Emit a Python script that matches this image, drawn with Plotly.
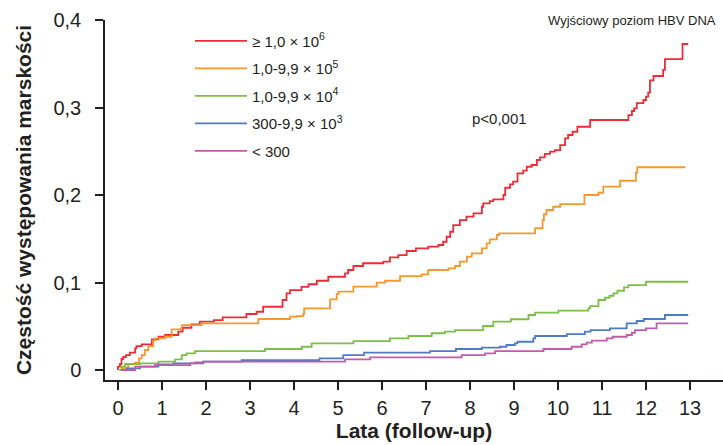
import plotly.graph_objects as go

# Data (years, cumulative incidence)
red_t = [0.0, 0.0, 0.045, 0.08, 0.12, 0.18, 0.27, 0.39, 0.42, 0.54, 0.77, 0.92, 1.07, 1.37, 1.47, 1.67, 1.86, 2.18, 2.38, 2.92, 3.15, 3.30, 3.74, 3.83, 3.91, 4.17, 4.33, 4.52, 4.78, 5.16, 5.23, 5.35, 5.57, 6.03, 6.18, 6.37, 6.56, 6.77, 7.05, 7.28, 7.39, 7.47, 7.55, 7.62, 7.77, 7.92, 8.08, 8.27, 8.30, 8.45, 8.53, 8.76, 8.80, 8.91, 8.98, 9.08, 9.21, 9.29, 9.40, 9.52, 9.59, 9.70, 9.82, 9.93, 10.05, 10.16, 10.23, 10.33, 10.44, 10.73, 11.60, 11.68, 11.73, 11.79, 11.94, 12.00, 12.05, 12.09, 12.17, 12.39, 12.43, 12.83, 12.96]
red_v = [0.0, 0.0038, 0.0069, 0.0126, 0.0149, 0.017, 0.0198, 0.0248, 0.0274, 0.0294, 0.0351, 0.038, 0.040, 0.0438, 0.0483, 0.0522, 0.0552, 0.0571, 0.0602, 0.064, 0.0666, 0.0723, 0.080, 0.0877, 0.0914, 0.095, 0.098, 0.102, 0.1066, 0.1105, 0.1143, 0.1189, 0.122, 0.1238, 0.1288, 0.1314, 0.136, 0.139, 0.141, 0.1429, 0.1466, 0.1523, 0.158, 0.1657, 0.1714, 0.1752, 0.179, 0.1866, 0.1905, 0.1931, 0.195, 0.200, 0.2083, 0.2122, 0.2152, 0.2248, 0.2278, 0.2323, 0.2343, 0.240, 0.243, 0.2469, 0.2495, 0.2514, 0.2571, 0.2648, 0.2686, 0.2723, 0.278, 0.2857, 0.2914, 0.296, 0.299, 0.305, 0.3086, 0.3124, 0.317, 0.331, 0.336, 0.343, 0.3554, 0.3726, 0.3726]

orange_t = [0.05, 0.12, 0.23, 0.39, 0.48, 0.54, 0.61, 0.69, 0.80, 0.84, 1.07, 1.22, 1.43, 1.45, 1.90, 3.19, 3.91, 4.06, 4.21, 4.23, 4.82, 4.97, 5.01, 5.35, 5.88, 6.07, 6.41, 6.90, 7.05, 7.51, 7.66, 7.77, 7.93, 8.04, 8.27, 8.38, 8.45, 8.61, 8.66, 9.48, 9.65, 9.68, 9.74, 9.89, 10.05, 10.60, 10.92, 11.03, 11.41, 11.77, 11.80, 12.89]
orange_v = [0.0, 0.002, 0.0069, 0.0083, 0.0134, 0.0171, 0.0229, 0.0274, 0.0335, 0.0362, 0.038, 0.0465, 0.0477, 0.0514, 0.0533, 0.0583, 0.061, 0.0617, 0.064, 0.0705, 0.0808, 0.0869, 0.0895, 0.0952, 0.0998, 0.102, 0.1074, 0.1094, 0.1143, 0.1162, 0.1189, 0.1238, 0.1295, 0.1334, 0.1391, 0.1448, 0.1494, 0.1543, 0.1562, 0.162, 0.1714, 0.178, 0.1829, 0.1866, 0.1897, 0.200, 0.2026, 0.2095, 0.2163, 0.2255, 0.2317, 0.2317]

green_t = [0.03, 0.08, 0.16, 0.50, 0.92, 1.30, 1.45, 1.56, 1.75, 3.34, 4.18, 4.40, 5.35, 6.18, 6.60, 7.13, 7.43, 7.66, 8.30, 8.53, 8.93, 9.33, 9.48, 10.01, 10.69, 10.73, 10.92, 11.07, 11.17, 11.26, 11.35, 11.50, 11.60, 12.00, 12.96]
green_v = [0.0, 0.0038, 0.0069, 0.0077, 0.0095, 0.0122, 0.0171, 0.019, 0.0217, 0.024, 0.0266, 0.0305, 0.0331, 0.0362, 0.0389, 0.042, 0.0438, 0.0457, 0.0503, 0.0552, 0.058, 0.0629, 0.0655, 0.0678, 0.0705, 0.0731, 0.080, 0.0826, 0.0849, 0.0877, 0.0906, 0.0945, 0.0971, 0.1009, 0.1009]

blue_t = [0.08, 0.20, 0.50, 0.92, 1.26, 1.94, 2.81, 4.58, 5.12, 5.59, 7.09, 7.68, 8.27, 8.68, 8.83, 9.02, 9.08, 9.44, 9.48, 10.20, 10.61, 10.74, 11.18, 11.56, 11.79, 11.95, 12.43, 12.96]
blue_v = [0.0, 0.0019, 0.0038, 0.0065, 0.0077, 0.0095, 0.0114, 0.0134, 0.0171, 0.0198, 0.0217, 0.024, 0.0255, 0.0266, 0.0286, 0.0305, 0.0323, 0.0362, 0.0389, 0.0411, 0.0438, 0.0457, 0.0477, 0.0534, 0.056, 0.0583, 0.0629, 0.0629]

magenta_t = [0.10, 0.39, 0.84, 1.64, 1.75, 1.94, 5.16, 5.73, 7.81, 8.34, 8.57, 9.67, 10.31, 10.54, 10.65, 10.77, 11.11, 11.24, 11.56, 11.68, 11.75, 12.00, 12.24, 12.96]
magenta_v = [0.0, 0.0038, 0.0057, 0.0077, 0.0088, 0.0095, 0.0122, 0.0145, 0.0171, 0.0191, 0.0217, 0.024, 0.0266, 0.0294, 0.0312, 0.0335, 0.0362, 0.038, 0.040, 0.0426, 0.0457, 0.0477, 0.0534, 0.0534]

series_names = ["≥ 1,0 × 10<sup>6</sup>", "1,0-9,9 × 10<sup>5</sup>", "1,0-9,9 × 10<sup>4</sup>",
                "300-9,9 × 10<sup>3</sup>", "< 300"]
series_colors = ["#ee2b36", "#f7972f", "#7cbf45", "#4f7bc6", "#c55aab"]

x_ticks = list(range(0, 14))
y_tickvals = [0, 0.1, 0.2, 0.3, 0.4]
y_ticktext = ["0", "0,1", "0,2", "0,3", "0,4"]

TXT = "#231f20"
FONT = "Liberation Sans, Arial, sans-serif"

fig = go.Figure()
for i, (t, v, name, col) in enumerate(zip([red_t, orange_t, green_t, blue_t, magenta_t],
                                          [red_v, orange_v, green_v, blue_v, magenta_v],
                                          series_names, series_colors)):
    fig.add_trace(go.Scatter(x=t, y=v, mode="lines", name=name, legendgroup=f"g{i}",
                             line=dict(color=col, width=1.8, shape="hv")))

fig.update_layout(
    width=723, height=445,
    margin=dict(l=105, r=0, t=20, b=65),
    paper_bgcolor="white", plot_bgcolor="white",
    font=dict(family=FONT, color=TXT),
    showlegend=True,
    legend=dict(x=85 / 618, y=0.987, xanchor="left", yanchor="top",
                bgcolor="rgba(0,0,0,0)", font=dict(size=15, color=TXT),
                itemwidth=52, tracegroupgap=5, traceorder="grouped"),
    xaxis=dict(range=[-0.295, 13.75], tickvals=x_ticks, ticks="outside", ticklen=8,
               tickwidth=1.5, tickcolor="#231f20", showline=True, linecolor="#231f20",
               linewidth=1.5, showgrid=False, zeroline=False,
               tickfont=dict(size=20, color=TXT), ticklabelstandoff=1,
               title=dict(text="<b>Lata (follow-up)</b>", font=dict(size=21, color=TXT), standoff=6)),
    yaxis=dict(range=[-0.0114, 0.4], tickvals=y_tickvals, ticktext=y_ticktext, ticks="outside",
               ticklen=8, tickwidth=1.5, tickcolor="#231f20", showline=True, linecolor="#231f20",
               linewidth=1.5, showgrid=False, zeroline=False,
               tickfont=dict(size=20, color=TXT), ticklabelstandoff=10,
               title=dict(text="<b>Częstość występowania marskości</b>", font=dict(size=21, color=TXT), standoff=16)),
    annotations=[
        dict(text="Wyjściowy poziom HBV DNA", xref="paper", yref="paper", x=1.0, y=1.0, xshift=-5,
             xanchor="right", yanchor="middle", showarrow=False, font=dict(size=13, color=TXT)),
        dict(text="p<0,001", xref="x", yref="y", x=8.0, y=0.287, xanchor="left", yanchor="middle",
             showarrow=False, font=dict(size=15, color=TXT)),
    ],
)

fig.write_html("out.html", config={"displayModeBar": False},
               post_script="document.body.style.margin='0';")
